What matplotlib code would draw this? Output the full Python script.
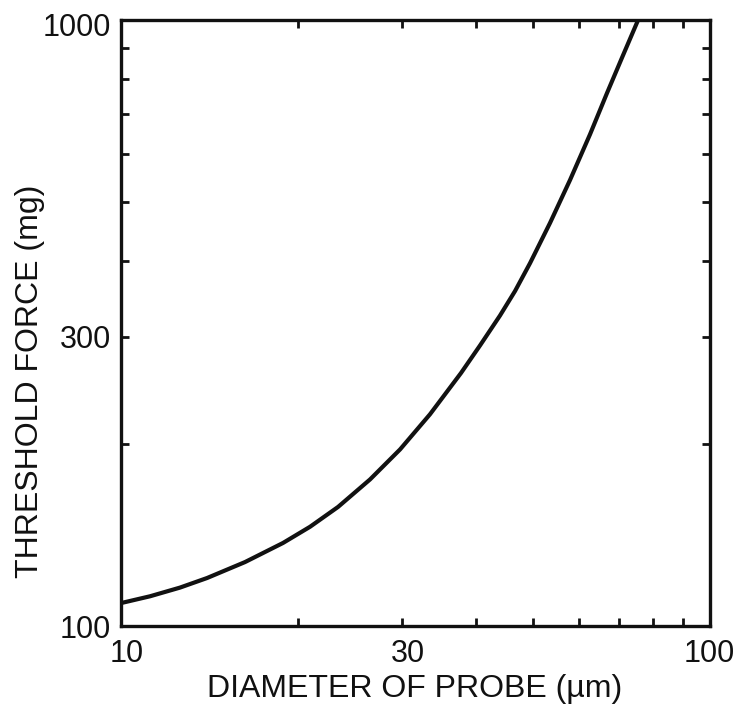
import matplotlib
matplotlib.use("Agg")
import matplotlib.pyplot as plt
from matplotlib.ticker import FixedLocator, FixedFormatter, NullFormatter
from matplotlib.transforms import ScaledTranslation

# Data (probe diameter in µm, threshold force in mg)
diameter = [10, 11.20, 12.59, 14.0, 16.24, 18.84, 20.94, 23.36, 26.47, 29.77,
            33.46, 37.78, 40.7, 44.0, 46.67, 49.48, 53.5, 57.86, 62.56, 66.86,
            70.9, 75.5]
force = [109.1, 111.95, 115.7, 120.0, 127.5, 137.1, 145.8, 157.2, 174.5, 195.6,
         223.5, 261.5, 290.4, 325.3, 357.1, 396.9, 462.4, 544.5, 647.6, 757.7,
         866.8, 1000]

x_major = [10, 30, 100]
x_major_labels = ["10", "30", "100"]
x_minor = [20, 40, 50, 60, 70, 80, 90]
y_major = [100, 300, 1000]
y_major_labels = ["100", "300", "1000"]
y_minor = [200, 400, 500, 600, 700, 800, 900]

plt.rcParams['font.family'] = ['Liberation Sans', 'DejaVu Sans']
INK = "#111111"

fig = plt.figure(figsize=(7.37, 7.11), dpi=100)
ax = fig.add_axes([121/737, 1 - 626/711, 589/737, 606/711])

ax.plot(diameter, force, color=INK, lw=3.0, solid_capstyle="butt",
        solid_joinstyle="round")
ax.set_xscale("log")
ax.set_yscale("log")
ax.set_xlim(10, 100)
ax.set_ylim(100, 1000)

ax.xaxis.set_major_locator(FixedLocator(x_major))
ax.xaxis.set_major_formatter(FixedFormatter(x_major_labels))
ax.xaxis.set_minor_locator(FixedLocator(x_minor))
ax.xaxis.set_minor_formatter(NullFormatter())
ax.yaxis.set_major_locator(FixedLocator(y_major))
ax.yaxis.set_major_formatter(FixedFormatter(y_major_labels))
ax.yaxis.set_minor_locator(FixedLocator(y_minor))
ax.yaxis.set_minor_formatter(NullFormatter())

for s in ax.spines.values():
    s.set_linewidth(2.4)
    s.set_color(INK)

ax.tick_params(which="both", direction="in", top=True, right=True,
               length=6, width=2, color=INK, labelsize=22, labelcolor=INK)
ax.tick_params(axis="x", which="major", pad=9)
ax.tick_params(axis="y", which="major", pad=7)

# small offsets seen in the reference
xlabs = ax.get_xticklabels()
for lab in xlabs[:-1]:
    lab.set_transform(lab.get_transform() + ScaledTranslation(0.06, 0, fig.dpi_scale_trans))
xlabs[-1].set_transform(xlabs[-1].get_transform() + ScaledTranslation(-0.01, 0, fig.dpi_scale_trans))
ylabs = ax.get_yticklabels()
ylabs[-1].set_transform(ylabs[-1].get_transform() + ScaledTranslation(0, -0.05, fig.dpi_scale_trans))

ax.set_xlabel("DIAMETER OF PROBE (µm)", fontsize=23, color=INK)
ax.set_ylabel("THRESHOLD FORCE (mg)", fontsize=23, color=INK)
ax.xaxis.label.set_va("center")
ax.yaxis.label.set_va("center")
ax.xaxis.set_label_coords(0.499, -0.104)
ax.yaxis.set_label_coords(-0.1545, 0.404)

fig.savefig("out.png", dpi=100)
